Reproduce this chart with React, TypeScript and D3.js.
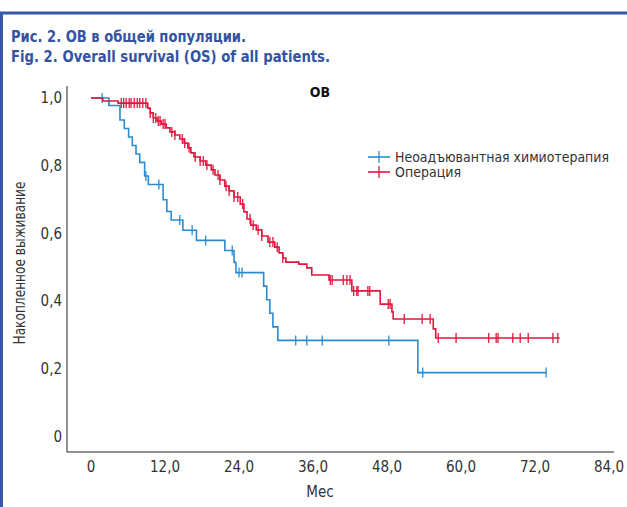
import React from 'react';
import * as d3 from 'd3';

// Kaplan-Meier steps: time (months) -> survival after the event
const blueTimes = [2.9, 4.7, 5.4, 6.1, 6.7, 7.3, 7.9, 8.7, 9.3, 11.7, 12.3, 13.0, 14.9, 17.1, 21.7, 23.2, 23.5, 28.0, 28.5, 29.0, 29.5, 30.3, 53.0];
const blueSurv = [0.978, 0.935, 0.91, 0.885, 0.86, 0.835, 0.81, 0.77, 0.745, 0.70, 0.665, 0.64, 0.61, 0.58, 0.55, 0.515, 0.485, 0.445, 0.405, 0.365, 0.325, 0.285, 0.19];
const blueCensor = [1.8, 8.9, 11.0, 14.4, 16.4, 18.6, 22.9, 24.0, 24.5, 33.2, 35.0, 37.5, 48.3, 53.8, 73.8];
const blueEnd = 73.8;

const redTimes = [1.9, 4.4, 9.2, 9.6, 10.1, 10.7, 11.4, 12.2, 12.8, 13.6, 14.4, 15.1, 15.7, 16.2, 16.7, 17.7, 18.6, 19.5, 20.1, 20.9, 21.7, 22.4, 23.2, 24.2, 24.8, 25.3, 25.9, 26.8, 27.7, 28.7, 29.8, 30.5, 31.1, 31.6, 33.7, 35.0, 35.8, 38.6, 42.3, 46.9, 48.8, 49.0, 55.5, 55.9];
const redSurv = [0.991, 0.985, 0.970, 0.956, 0.941, 0.932, 0.923, 0.912, 0.900, 0.891, 0.879, 0.867, 0.853, 0.838, 0.826, 0.814, 0.802, 0.788, 0.773, 0.758, 0.740, 0.726, 0.708, 0.687, 0.664, 0.643, 0.625, 0.611, 0.593, 0.575, 0.560, 0.543, 0.528, 0.516, 0.510, 0.499, 0.478, 0.463, 0.431, 0.392, 0.369, 0.348, 0.319, 0.292];
const redCensor = [4.9, 5.3, 5.7, 6.2, 6.5, 7.0, 7.5, 7.9, 8.4, 8.9, 9.6, 10.1, 10.5, 10.9, 11.2, 11.7, 12.0, 13.1, 13.6, 14.8, 15.2, 15.9, 16.9, 17.7, 18.2, 18.8, 19.8, 20.6, 20.9, 21.9, 22.4, 23.2, 23.8, 24.6, 25.8, 26.3, 27.1, 27.7, 29.0, 29.5, 30.2, 31.1, 38.8, 39.1, 40.9, 41.5, 42.0, 42.6, 43.1, 43.3, 44.9, 45.2, 48.2, 48.5, 50.8, 53.7, 55.0, 56.3, 59.2, 64.5, 65.7, 66.0, 68.4, 69.6, 70.9, 74.9, 75.7];
const redEnd = 76.0;

const xTicks = [0, 12, 24, 36, 48, 60, 72, 84];
const xTickLabels = ['0', '12,0', '24,0', '36,0', '48,0', '60,0', '72,0', '84,0'];
const yTicks = [0, 0.2, 0.4, 0.6, 0.8, 1.0];
const yTickLabels = ['0', '0,2', '0,4', '0,6', '0,8', '1,0'];

const seriesNames = ['Неоадъювантная химиотерапия', 'Операция'];
const legendWidths = [214, 66];
const colors = ['#2a8ccf', '#e2173f'];

const FONT = "'Liberation Sans Narrow', 'DejaVu Sans Condensed', 'Roboto', sans-serif";
const W = 627;
const H = 507;

function survAt(times: number[], surv: number[], t: number) {
  let s = 1;
  for (let i = 0; i < times.length; i++) {
    if (times[i] <= t) s = surv[i];
  }
  return s;
}

const App = () => {
  const x = d3.scaleLinear().domain([0, 84]).range([91, 609]);
  const y = d3.scaleLinear().domain([0, 1]).range([437, 98]);

  const line = d3.line<[number, number]>()
    .x((d) => x(d[0]))
    .y((d) => y(d[1]))
    .curve(d3.curveStepAfter);

  const series = [
    { times: blueTimes, surv: blueSurv, censor: blueCensor, end: blueEnd },
    { times: redTimes, surv: redSurv, censor: redCensor, end: redEnd },
  ];

  return (
    <svg width={W} height={H} style={{ position: 'absolute', left: 0, top: 0, background: '#fff' }}>
      {/* frame */}
      <line x1={0} x2={W} y1={13} y2={13} stroke="#3a58a8" strokeWidth={3} />
      <line x1={1.5} x2={1.5} y1={12} y2={H} stroke="#3a58a8" strokeWidth={3} />

      <text x={11} y={42} fontFamily={FONT} fontWeight="bold" fontSize={15.5} fill="#3453a3" textLength={235} lengthAdjust="spacingAndGlyphs">Рис. 2. ОВ в общей популяции.</text>
      <text x={11} y={62} fontFamily={FONT} fontWeight="bold" fontSize={15.5} fill="#3453a3" textLength={319} lengthAdjust="spacingAndGlyphs">Fig. 2. Overall survival (OS) of all patients.</text>

      <text x={320} y={97} fontFamily={FONT} fontWeight="bold" fontSize={14} fill="#111" textAnchor="middle">ОВ</text>

      {/* axes */}
      <line x1={67} x2={67} y1={86} y2={452} stroke="#222" strokeWidth={1} />
      <line x1={67} x2={614} y1={452} y2={452} stroke="#222" strokeWidth={1} />

      {yTicks.map((t, i) => (
        <text key={'y' + i} x={62} y={y(t) + 5} textAnchor="end" fontFamily={FONT} fontSize={15} fill="#333">{yTickLabels[i]}</text>
      ))}
      {xTicks.map((t, i) => (
        <text key={'x' + i} x={x(t)} y={472} textAnchor="middle" fontFamily={FONT} fontSize={15} fill="#333">{xTickLabels[i]}</text>
      ))}
      <text x={320} y={497} textAnchor="middle" fontFamily={FONT} fontSize={15} fill="#333">Мес</text>
      <text transform="translate(25,263) rotate(-90)" textAnchor="middle" fontFamily={FONT} fontSize={15} fill="#333" textLength={163} lengthAdjust="spacingAndGlyphs">Накопленное выживание</text>

      {/* curves */}
      {series.map((s, si) => {
        const pts: [number, number][] = [[0, 1]];
        s.times.forEach((t, i) => pts.push([t, s.surv[i]]));
        pts.push([s.end, s.surv[s.surv.length - 1]]);
        return (
          <g key={si}>
            <path d={line(pts) || ''} fill="none" stroke={colors[si]} strokeWidth={1.6} />
            {s.censor.map((c, ci) => {
              const cy = y(survAt(s.times, s.surv, c));
              return <line key={ci} x1={x(c)} x2={x(c)} y1={cy - 5} y2={cy + 5} stroke={colors[si]} strokeWidth={1.3} />;
            })}
          </g>
        );
      })}

      {/* legend */}
      {seriesNames.map((n, i) => (
        <g key={n} transform={`translate(368,${157 + i * 15})`}>
          <line x1={0} x2={22} y1={0} y2={0} stroke={colors[i]} strokeWidth={1.6} />
          <line x1={11} x2={11} y1={-6} y2={6} stroke={colors[i]} strokeWidth={1.3} />
          <text x={27} y={5} fontFamily={FONT} fontSize={13.5} fill="#333" textLength={legendWidths[i]} lengthAdjust="spacingAndGlyphs">{n}</text>
        </g>
      ))}
    </svg>
  );
};

export default App;
